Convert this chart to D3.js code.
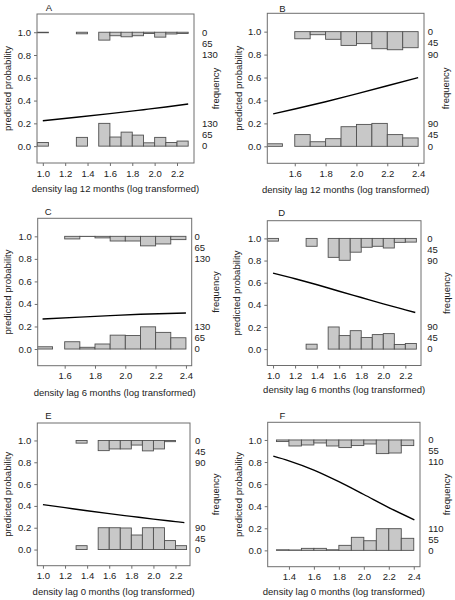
<!DOCTYPE html>
<html>
<head>
<meta charset="utf-8">
<script src="https://cdn.jsdelivr.net/npm/d3@7"></script>
<style>
  html, body { margin: 0; padding: 0; background: #fff; }
  svg text { font-family: "Liberation Sans", Arial, Helvetica, sans-serif; fill: #222; }
</style>
</head>
<body>
<svg id="chart" width="455" height="600"></svg>
<script>
// ---------------- DATA ----------------
// Panel A: density lag 12 months
const A_edges = [[0.95,1.05],[1.3,1.4],[1.5,1.6],[1.6,1.7],[1.7,1.8],[1.8,1.9],[1.9,2.0],[2.0,2.1],[2.1,2.2],[2.2,2.3]];
const A_count0 = [21, 50, 130, 52, 80, 63, 19, 50, 21, 29];
const A_count1 = [3, 9, 45, 20, 26, 20, 7, 28, 10, 7];
const A_curveX = [1.0, 1.3, 1.6, 1.9, 2.1, 2.3];
const A_curveP = [0.223, 0.253, 0.285, 0.32, 0.344, 0.37];
const A_xticks = [1.0, 1.2, 1.4, 1.6, 1.8, 2.0, 2.2];
const A_freqTicks = [0, 65, 130];

// Panel B: density lag 12 months
const B_edges = [[1.40,1.52],[1.6,1.7],[1.7,1.8],[1.8,1.9],[1.9,2.0],[2.0,2.1],[2.1,2.2],[2.2,2.3],[2.3,2.4]];
const B_count0 = [10, 46, 18, 30, 77, 86, 90, 46, 33];
const B_count1 = [0, 28, 12, 30, 54, 47, 67, 71, 63];
const B_curveX = [1.46, 1.6, 1.8, 2.0, 2.2, 2.4];
const B_curveP = [0.283, 0.325, 0.389, 0.458, 0.528, 0.599];
const B_xticks = [1.6, 1.8, 2.0, 2.2, 2.4];
const B_freqTicks = [0, 45, 90];

// Panel C: density lag 6 months
const C_edges = [[1.40,1.52],[1.6,1.7],[1.7,1.8],[1.8,1.9],[1.9,2.0],[2.0,2.1],[2.1,2.2],[2.2,2.3],[2.3,2.4]];
const C_count0 = [13, 42, 10, 29, 80, 78, 128, 96, 65];
const C_count1 = [0, 15, 1, 9, 27, 27, 55, 44, 19];
const C_curveX = [1.454, 1.7, 1.9, 2.1, 2.4];
const C_curveP = [0.267, 0.283, 0.296, 0.308, 0.32];
const C_xticks = [1.6, 1.8, 2.0, 2.2, 2.4];
const C_freqTicks = [0, 65, 130];

// Panel D: density lag 6 months
const D_edges = [[0.95,1.05],[1.3,1.4],[1.4,1.5],[1.5,1.6],[1.6,1.7],[1.7,1.8],[1.8,1.9],[1.9,2.0],[2.0,2.1],[2.1,2.2],[2.2,2.3]];
const D_count0 = [0, 20, null, 90, 55, 75, 47, 59, 63, 19, 23];
const D_count1 = [11, 32, 0, 77, 89, 56, 36, 32, 39, 16, 15];
const D_curveX = [1.0, 1.2, 1.4, 1.6, 1.8, 2.0, 2.2, 2.29];
const D_curveP = [0.687, 0.636, 0.581, 0.523, 0.466, 0.409, 0.355, 0.331];
const D_xticks = [1.0, 1.2, 1.4, 1.6, 1.8, 2.0, 2.2];
const D_freqTicks = [0, 45, 90];

// Panel E: density lag 0 months
const E_edges = [[0.95,1.05],[1.3,1.4],[1.5,1.6],[1.6,1.7],[1.7,1.8],[1.8,1.9],[1.9,2.0],[2.0,2.1],[2.1,2.2],[2.2,2.3]];
const E_count0 = [0, 16, 90, 90, 89, 60, 90, 90, 37, 16];
const E_count1 = [null, 11, 42, 35, 35, 19, 43, 35, 5, 0];
const E_curveX = [1.0, 1.2, 1.4, 1.6, 1.8, 2.0, 2.2, 2.28];
const E_curveP = [0.412, 0.384, 0.356, 0.329, 0.304, 0.279, 0.256, 0.247];
const E_xticks = [1.0, 1.2, 1.4, 1.6, 1.8, 2.0, 2.2];
const E_freqTicks = [0, 45, 90];

// Panel F: density lag 0 months
const F_edges = [[1.2,1.3],[1.3,1.4],[1.4,1.5],[1.5,1.6],[1.6,1.7],[1.7,1.8],[1.8,1.9],[1.9,2.0],[2.0,2.1],[2.1,2.2],[2.2,2.3],[2.3,2.4],[2.4,2.5]];
const F_count0 = [null, 3, 2, 10, 10, 3, 25, 65, 48, 108, 108, 60, 0];
const F_count1 = [0, 8, 30, 25, 15, 30, 38, 28, 20, 68, 65, 28, 0];
const F_curveX = [1.275, 1.4, 1.6, 1.8, 2.0, 2.2, 2.405];
const F_curveP = [0.853, 0.811, 0.727, 0.622, 0.506, 0.388, 0.277];
const F_xticks = [1.4, 1.6, 1.8, 2.0, 2.2, 2.4];
const F_freqTicks = [0, 55, 110];

const probTicks = [0.0, 0.2, 0.4, 0.6, 0.8, 1.0];
const xTitles = {
  "12": "density lag 12 months (log transformed)",
  "6": "density lag 6 months (log transformed)",
  "0": "density lag 0 months (log transformed)"
};

// ---------------- LAYOUT ----------------
const layout = [
  {id:"A", edges:A_edges, c0:A_count0, c1:A_count1, cx:A_curveX, cp:A_curveP, xt:A_xticks, ft:A_freqTicks, lag:"12",
   L:37, R:194, T:14, B:163, xdom:[0.948,2.352], tX:49, tY:11, fX:202, fTX:216, pTX:7.5, xlY:189},
  {id:"B", edges:B_edges, c0:B_count0, c1:B_count1, cx:B_curveX, cp:B_curveP, xt:B_xticks, ft:B_freqTicks, lag:"12",
   L:267.3, R:424, T:13.3, B:163.3, xdom:[1.422,2.438], tX:282.3, tY:11.5, fX:427.7, fTX:445.7, pTX:238.3, xlY:189.3},
  {id:"C", edges:C_edges, c0:C_count0, c1:C_count1, cx:C_curveX, cp:C_curveP, xt:C_xticks, ft:C_freqTicks, lag:"6",
   L:37.7, R:191.7, T:218.3, B:365.7, xdom:[1.422,2.438], tX:48.3, tY:214.5, fX:194.5, fTX:216, pTX:7.3, xlY:392.7},
  {id:"D", edges:D_edges, c0:D_count0, c1:D_count1, cx:D_curveX, cp:D_curveP, xt:D_xticks, ft:D_freqTicks, lag:"6",
   L:267.3, R:421, T:220.7, B:365.5, xdom:[0.948,2.342], tX:281.7, tY:215.5, fX:427.3, fTX:446.7, pTX:236.7, xlY:389.3},
  {id:"E", edges:E_edges, c0:E_count0, c1:E_count1, cx:E_curveX, cp:E_curveP, xt:E_xticks, ft:E_freqTicks, lag:"0",
   L:37.3, R:190, T:423, B:565.7, xdom:[0.949,2.331], tX:48.3, tY:418.5, fX:195, fTX:216, pTX:7.3, xlY:591.7},
  {id:"F", edges:F_edges, c0:F_count0, c1:F_count1, cx:F_curveX, cp:F_curveP, xt:F_xticks, ft:F_freqTicks, lag:"0",
   L:267.7, R:420, T:422.3, B:566.7, xdom:[1.23,2.45], tX:282.3, tY:418.5, fX:428.3, fTX:446.7, pTX:238.3, xlY:591.7}
];

const FONT = 9.5;
const AXIS_COL = "#6e6e6e";
const BAR_FILL = "#c8c8c8";
const BAR_STROKE = "#505050";
const svg = d3.select("#chart");

layout.forEach(p => {
  const x = d3.scaleLinear().domain(p.xdom).range([p.L, p.R]);
  const y = d3.scaleLinear().domain([-0.148, 1.16]).range([p.B, p.T]);
  const maxF = d3.max(p.ft);
  const h = d3.scaleLinear().domain([0, maxF]).range([0, 0.2]); // counts -> probability units

  const g = svg.append("g");
  const clipId = "clip" + p.id;
  g.append("clipPath").attr("id", clipId)
    .append("rect").attr("x", p.L).attr("y", p.T).attr("width", p.R - p.L).attr("height", p.B - p.T);

  const plot = g.append("g").attr("clip-path", `url(#${clipId})`);

  // bottom histogram (outcome 0)
  const bins0 = p.edges.map((e, i) => ({x0:e[0], x1:e[1], c:p.c0[i]})).filter(d => d.c !== null);
  plot.selectAll("rect.b0").data(bins0).enter().append("rect")
    .attr("x", d => x(d.x0)).attr("width", d => x(d.x1) - x(d.x0))
    .attr("y", d => y(h(d.c))).attr("height", d => y(0) - y(h(d.c)))
    .attr("fill", BAR_FILL).attr("stroke", BAR_STROKE).attr("stroke-width", 0.9);

  // top histogram (outcome 1), hanging down from 1.0
  const bins1 = p.edges.map((e, i) => ({x0:e[0], x1:e[1], c:p.c1[i]})).filter(d => d.c !== null);
  plot.selectAll("rect.b1").data(bins1).enter().append("rect")
    .attr("x", d => x(d.x0)).attr("width", d => x(d.x1) - x(d.x0))
    .attr("y", y(1)).attr("height", d => y(1 - h(d.c)) - y(1))
    .attr("fill", BAR_FILL).attr("stroke", BAR_STROKE).attr("stroke-width", 0.9);

  // fitted curve
  const pts = p.cx.map((v, i) => [v, p.cp[i]]);
  plot.append("path").datum(pts)
    .attr("d", d3.line().x(d => x(d[0])).y(d => y(d[1])).curve(d3.curveMonotoneX))
    .attr("fill", "none").attr("stroke", "#000").attr("stroke-width", 1.4);

  // box
  g.append("rect").attr("x", p.L).attr("y", p.T).attr("width", p.R - p.L).attr("height", p.B - p.T)
    .attr("fill", "none").attr("stroke", AXIS_COL).attr("stroke-width", 1);

  // left axis
  const yAxis = d3.axisLeft(y).tickValues(probTicks).tickSize(3).tickPadding(3).tickFormat(d3.format(".1f"));
  const ya = g.append("g").attr("transform", `translate(${p.L},0)`).call(yAxis);
  ya.select(".domain").remove();
  ya.selectAll("line").attr("stroke", AXIS_COL);
  ya.selectAll("text").attr("font-size", FONT).attr("fill", "#222");

  // bottom axis
  const xAxis = d3.axisBottom(x).tickValues(p.xt).tickSize(3).tickPadding(4).tickFormat(d3.format(".1f"));
  const xa = g.append("g").attr("transform", `translate(0,${p.B})`).call(xAxis);
  xa.select(".domain").remove();
  xa.selectAll("line").attr("stroke", AXIS_COL);
  xa.selectAll("text").attr("font-size", FONT).attr("fill", "#222");

  // right frequency labels (top group hanging from 1.0, bottom group rising from 0)
  const topLab = p.ft.map(v => ({v, yv: 1 - h(v)}));
  const botLab = p.ft.map(v => ({v, yv: h(v)}));
  g.selectAll("text.ft").data(topLab.concat(botLab)).enter().append("text")
    .attr("x", p.fX).attr("y", d => y(d.yv)).attr("dy", "0.35em")
    .attr("font-size", FONT).text(d => d.v);

  // titles
  g.append("text").attr("x", p.tX).attr("y", p.tY).attr("text-anchor", "middle")
    .attr("font-size", FONT).text(p.id);
  g.append("text").attr("x", (p.L + p.R) / 2).attr("y", p.xlY).attr("dy", "0.35em")
    .attr("text-anchor", "middle").attr("font-size", FONT).text(xTitles[p.lag]);
  const midY = (p.T + p.B) / 2;
  g.append("text").attr("transform", `translate(${p.pTX},${midY}) rotate(-90)`)
    .attr("dy", "0.35em").attr("text-anchor", "middle").attr("font-size", FONT).text("predicted probability");
  g.append("text").attr("transform", `translate(${p.fTX},${midY}) rotate(-90)`)
    .attr("dy", "0.35em").attr("text-anchor", "middle").attr("font-size", FONT).text("frequency");
});
</script>
</body>
</html>
